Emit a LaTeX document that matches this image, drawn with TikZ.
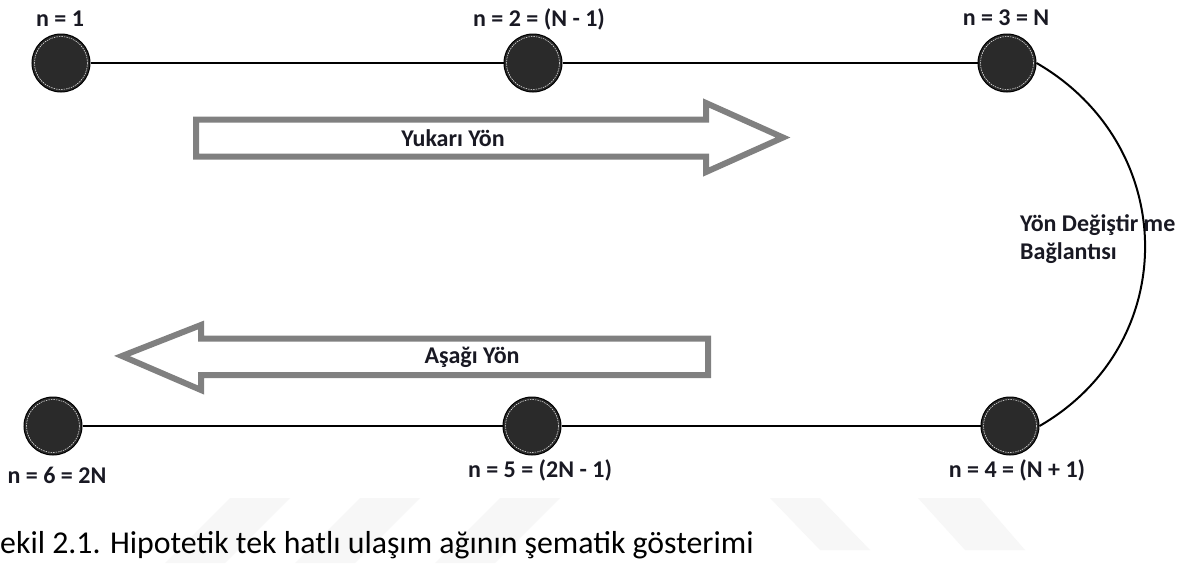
\documentclass[tikz,border=0pt]{standalone}
\usepackage{fontspec}
\setmainfont{Carlito}
\definecolor{nodefill}{RGB}{42,42,42}
\definecolor{arrowgray}{RGB}{128,128,128}
\definecolor{txt}{RGB}{25,25,35}
\definecolor{wm}{RGB}{247,247,247}
\tikzset{
  station/.style={circle, draw=black, line width=1pt, fill=nodefill, minimum size=58pt, inner sep=0pt},
  lbl/.style={font=\fontsize{24}{28}\selectfont\bfseries, text=txt, inner sep=0pt},
  track/.style={line width=2.4pt, black},
  blockarrow/.style={draw=arrowgray, line width=6pt, fill=white, line join=miter},
  caption/.style={font=\fontsize{31.8}{36}\selectfont, text=black, inner sep=0pt, anchor=base west},
  wmark/.style={fill=wm, draw=none}
}
\begin{document}
\begin{tikzpicture}[x=1pt,y=-1pt]
\useasboundingbox[fill=white] (0,0) rectangle (1186,563);
% faint watermark shapes
\fill[wmark] (230,498) -- (290,498) -- (225,563) -- (165,563) -- cycle;
\fill[wmark] (360,498) -- (420,498) -- (355,563) -- (295,563) -- cycle;
\fill[wmark] (500,498) -- (560,498) -- (495,563) -- (435,563) -- cycle;
\fill[wmark] (770,498) -- (820,498) -- (870,550) -- (820,550) -- cycle;
\fill[wmark] (918,498) -- (980,498) -- (1025,550) -- (965,550) -- cycle;
% stations
\node[station] (n1) at (61,63) {};
\node[station] (n2) at (533,63) {};
\node[station] (n3) at (1007,63) {};
\node[station] (n4) at (1010,426) {};
\node[station] (n5) at (532,426) {};
\node[station] (n6) at (53,426) {};
\foreach \n in {n1,n2,n3,n4,n5,n6}
  \draw[white, line width=0.5pt, dash pattern=on 1.5pt off 1pt] (\n) circle (26.5);
% labels
\node[lbl] (l1) at (60,19) {n = 1};
\node[lbl] (l2) at (539,19) {n = 2 = (N - 1)};
\node[lbl] (l3) at (1006,18) {n = 3 = N};
\node[lbl] (l4) at (1017,470) {n = 4 = (N + 1)};
\node[lbl] (l5) at (540,470) {n = 5 = (2N - 1)};
\node[lbl] (l6) at (57,475) {n = 6 = 2N};
% tracks
\draw[track] (n1) -- (n2);
\draw[track] (n2) -- (n3);
\draw[track] (n6) -- (n5);
\draw[track] (n5) -- (n4);
\draw[line width=2pt, black] (n3.east) to[out=-30, in=30, looseness=1.16] (n4.east);
% link label
\node[lbl, anchor=west] (lk1) at (1020,225) {Yön Değiştir me};
\node[lbl, anchor=west] (lk2) at (1020,253) {Bağlantısı};
% direction arrows
\draw[blockarrow] (196,119.5) -- (706,119.5) -- (706,103) -- (783,137.5) -- (706,172) -- (706,156.5) -- (196,156.5) -- cycle;
\node[lbl] (up) at (453,138) {Yukarı Yön};
\draw[blockarrow] (708,338.5) -- (201,338.5) -- (201,325) -- (122,356) -- (201,390) -- (201,375) -- (708,375) -- cycle;
\node[lbl] (down) at (472,357) {Aşağı Yön};
% caption
\node[caption] (cap) at (0,553) {ekil 2.1. Hipotetik tek hatlı ulaşım ağının şematik gösterimi};
\end{tikzpicture}
\end{document}
